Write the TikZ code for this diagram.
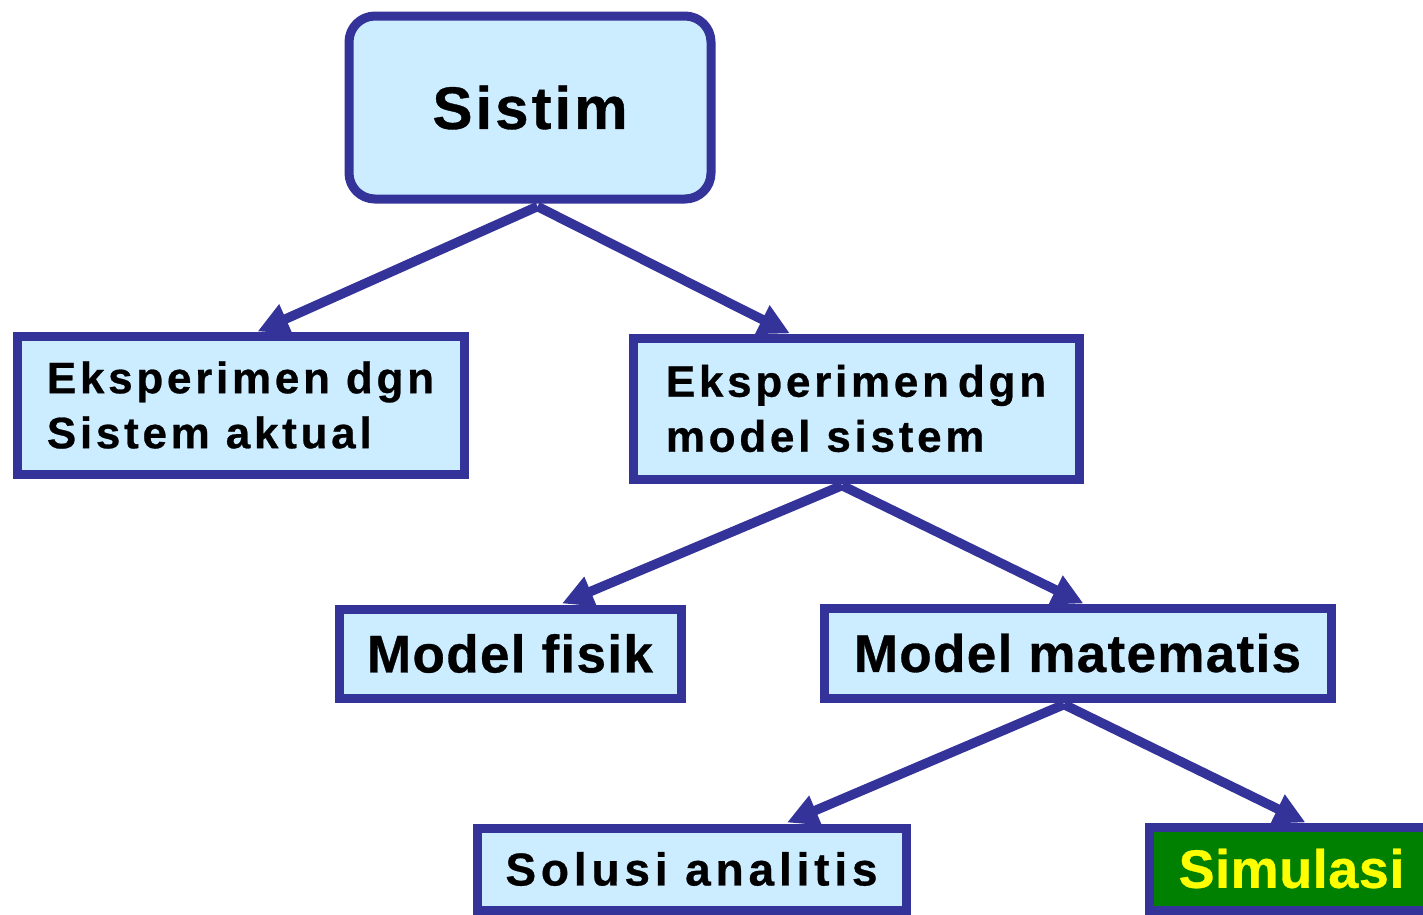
\documentclass[tikz,border=0pt]{standalone}
\usepackage{fontspec}
\newfontfamily\fa{Liberation Sans}
\usetikzlibrary{arrows.meta}
\definecolor{bord}{HTML}{333399}
\definecolor{boxfill}{HTML}{CCECFF}
\definecolor{simgreen}{HTML}{008000}
\definecolor{simyellow}{HTML}{FFFF00}
\pgfdeclarelayer{bg}
\pgfsetlayers{bg,main}
\begin{document}
\begin{tikzpicture}[x=1pt,y=-1pt,
  box/.style={draw=bord,fill=boxfill,line width=9pt,inner sep=0pt,text=black,anchor=center,align=left},
  arr/.style={draw=bord,line width=9.5pt,-{Triangle[length=31pt,width=30pt]}},
  fbig/.style={font=\fa\bfseries\fontsize{60}{72}\selectfont\addfontfeature{LetterSpace=5,FakeBold=0.6}},
  ftwo/.style={font=\fa\bfseries\fontsize{44}{55}\selectfont\addfontfeature{LetterSpace=8.5,FakeBold=0.6}},
  fmid/.style={font=\fa\bfseries\fontsize{53}{64}\selectfont\addfontfeature{LetterSpace=2.5,FakeBold=0.6}},
  fsol/.style={font=\fa\bfseries\fontsize{46}{56}\selectfont\addfontfeature{LetterSpace=10.5,FakeBold=0.6}},
  fsim/.style={font=\fa\bfseries\fontsize{54}{64}\selectfont\addfontfeature{LetterSpace=1,FakeBold=0.6}}]
\useasboundingbox (0,0) rectangle (1423,914);

\node[box,fbig,rounded corners=26pt,minimum width=362pt,minimum height=183pt] (sistim) at (530,107.5) {Sistim};
\node[box,ftwo,minimum width=447pt,minimum height=138pt] (a) at (240.5,405) {Eksperimen dgn\\Sistem aktual};
\node[box,ftwo,minimum width=446pt,minimum height=141pt] (b) at (856,408.5) {Eksperimen\hspace{9pt}dgn\\model sistem};
\node[box,fmid,minimum width=342pt,minimum height=89pt] (fisik) at (510,653.5) {Model fisik};
\node[box,fmid,minimum width=507pt,minimum height=90pt] (mat) at (1077.5,653) {Model matematis};
\node[box,fsol,minimum width=429pt,minimum height=82pt] (sol) at (691.5,869) {Solusi analitis};
\node[box,fsim,fill=simgreen,text=simyellow,minimum width=285pt,minimum height=83pt] (sim) at (1291.5,868.5) {Simulasi};

\begin{pgfonlayer}{bg}
\fill[white] (0,0) rectangle (1423,914);
\draw[arr] ([xshift=7.5pt,yshift=-3pt]sistim.south) -- ([xshift=17pt,yshift=0pt]a.north);
\draw[arr] ([xshift=7.5pt,yshift=-3pt]sistim.south) -- ([xshift=-66pt,yshift=0pt]b.north);
\draw[arr] ([xshift=-14pt,yshift=-2pt]b.south) -- ([xshift=52pt,yshift=1pt]fisik.north);
\draw[arr] ([xshift=-14pt,yshift=-2pt]b.south) -- ([xshift=6pt,yshift=0pt]mat.north);
\draw[arr] ([xshift=-13.5pt,yshift=-2pt]mat.south) -- ([xshift=95.5pt,yshift=1pt]sol.north);
\draw[arr] ([xshift=-13.5pt,yshift=-2pt]mat.south) -- ([xshift=14pt,yshift=0pt]sim.north);
\end{pgfonlayer}
\end{tikzpicture}
\end{document}
